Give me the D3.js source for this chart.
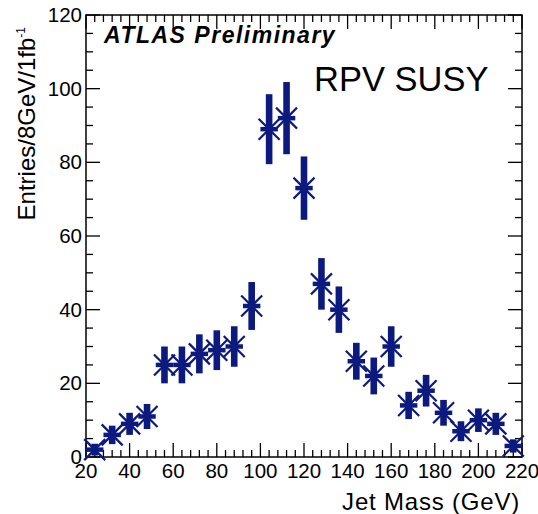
<!DOCTYPE html>
<meta charset="utf-8">
<style>

body {
  margin: 0;
  background: #fff;
}

svg {
  font-family: "Liberation Sans", Arial, Helvetica, sans-serif;
}

.frame {
  fill: none;
  stroke: #000;
  stroke-width: 1.5px;
}

.tick-line {
  stroke: #000;
  stroke-width: 1.3px;
}

</style>
<svg width="538" height="514"></svg>

<script src="https://d3js.org/d3.v7.min.js"></script>
<script>

  // bin centres (GeV), 8 GeV wide bins
  var mass = [24, 32, 40, 48, 56, 64, 72, 80, 88, 96, 104, 112, 120,
              128, 136, 144, 152, 160, 168, 176, 184, 192, 200, 208, 216];
  var entries = [2, 6, 9, 11, 25, 25, 28, 29, 30, 41, 89, 92, 73,
                 47, 40, 26, 22, 30, 14, 18, 12, 7, 10, 9, 3];
  var errors = [1.6, 2.5, 3, 3.4, 5, 5, 5.3, 5.4, 5.5, 6.5, 9.5, 9.8, 8.6,
                7, 6.3, 5, 5, 5.5, 3.7, 4.3, 3.5, 2.7, 3.2, 3, 1.8];
  var binWidth = 8;

  var xTicks = [20, 40, 60, 80, 100, 120, 140, 160, 180, 200, 220];
  var yTicks = [0, 20, 40, 60, 80, 100, 120];

  var navy = "#0c1a7f";

  var svg = d3.select("svg"),
      margin = {top: 15, right: 16, bottom: 57, left: 86},
      width = +svg.attr("width") - margin.left - margin.right,
      height = +svg.attr("height") - margin.top - margin.bottom,
      g = svg.append("g").attr("transform", "translate(" + margin.left + "," + margin.top + ")");

  var x = d3.scaleLinear()
      .domain([20, 220])
      .range([0, width]);

  var y = d3.scaleLinear()
      .domain([0, 120])
      .range([height, 0]);

  // inward ticks on all four sides, ROOT style
  var xMinor = d3.range(20, 221, 4),
      yMinor = d3.range(0, 121, 5);

  function isMajor(v) { return v % 20 === 0; }

  var ticks = g.append("g");

  xMinor.forEach(function(v) {
    var len = isMajor(v) ? 14 : 7;
    ticks.append("line").attr("class", "tick-line")
        .attr("x1", x(v)).attr("x2", x(v))
        .attr("y1", height).attr("y2", height - len);
    ticks.append("line").attr("class", "tick-line")
        .attr("x1", x(v)).attr("x2", x(v))
        .attr("y1", 0).attr("y2", len);
  });

  yMinor.forEach(function(v) {
    var len = isMajor(v) ? 14 : 7;
    ticks.append("line").attr("class", "tick-line")
        .attr("x1", 0).attr("x2", len)
        .attr("y1", y(v)).attr("y2", y(v));
    ticks.append("line").attr("class", "tick-line")
        .attr("x1", width).attr("x2", width - len)
        .attr("y1", y(v)).attr("y2", y(v));
  });

  g.append("rect")
      .attr("class", "frame")
      .attr("width", width)
      .attr("height", height);

  g.selectAll(".xlabel")
    .data(xTicks)
    .enter().append("text")
      .attr("class", "xlabel")
      .attr("x", function(d) { return x(d); })
      .attr("y", height + 21)
      .attr("text-anchor", "middle")
      .style("font-size", "20.5px")
      .text(function(d) { return d; });

  g.selectAll(".ylabel")
    .data(yTicks)
    .enter().append("text")
      .attr("class", "ylabel")
      .attr("x", -4)
      .attr("y", function(d) { return y(d) + 7; })
      .attr("text-anchor", "end")
      .style("font-size", "20.5px")
      .text(function(d) { return d; });

  // axis titles
  svg.append("text")
      .attr("x", margin.left + width - 2)
      .attr("y", 510)
      .attr("text-anchor", "end")
      .style("font-size", "24px")
      .style("letter-spacing", "0.8px")
      .text("Jet Mass (GeV)");

  var ytitle = svg.append("text")
      .attr("transform", "translate(35,27) rotate(-90)")
      .attr("text-anchor", "end")
      .style("font-size", "24px");
  ytitle.append("tspan").text("Entries/8GeV/1fb");
  ytitle.append("tspan")
      .attr("dy", -10)
      .style("font-size", "12px")
      .text("-1");

  // data points: vertical error bar, bin-width bar and asterisk marker
  var pts = mass.map(function(m, i) { return {m: m, n: entries[i], e: errors[i]}; });

  var point = g.selectAll(".point")
    .data(pts)
    .enter().append("g")
      .attr("class", "point")
      .attr("transform", function(d) { return "translate(" + x(d.m) + "," + y(d.n) + ")"; });

  var arm = 10.5;
  point.append("line")
      .attr("x1", -arm).attr("y1", -arm).attr("x2", arm).attr("y2", arm)
      .attr("stroke", navy).attr("stroke-width", 2.2);
  point.append("line")
      .attr("x1", -arm).attr("y1", arm).attr("x2", arm).attr("y2", -arm)
      .attr("stroke", navy).attr("stroke-width", 2.2);

  point.append("line")
      .attr("x1", function(d) { return x(d.m - binWidth / 2) - x(d.m); })
      .attr("x2", function(d) { return x(d.m + binWidth / 2) - x(d.m); })
      .attr("y1", 0).attr("y2", 0)
      .attr("stroke", navy).attr("stroke-width", 4.5);

  point.append("rect")
      .attr("x", -3.3)
      .attr("width", 6.6)
      .attr("y", function(d) { return y(d.n + d.e) - y(d.n); })
      .attr("height", function(d) { return y(d.n - d.e) - y(d.n + d.e); })
      .attr("fill", navy);

  // labels
  svg.append("text")
      .attr("x", 104)
      .attr("y", 43)
      .style("font-size", "23px")
      .style("font-weight", "bold")
      .style("font-style", "italic")
      .style("letter-spacing", "1.5px")
      .text("ATLAS Preliminary");

  svg.append("text")
      .attr("x", 314)
      .attr("y", 91)
      .style("font-size", "34.5px")
      .text("RPV SUSY");

</script>
